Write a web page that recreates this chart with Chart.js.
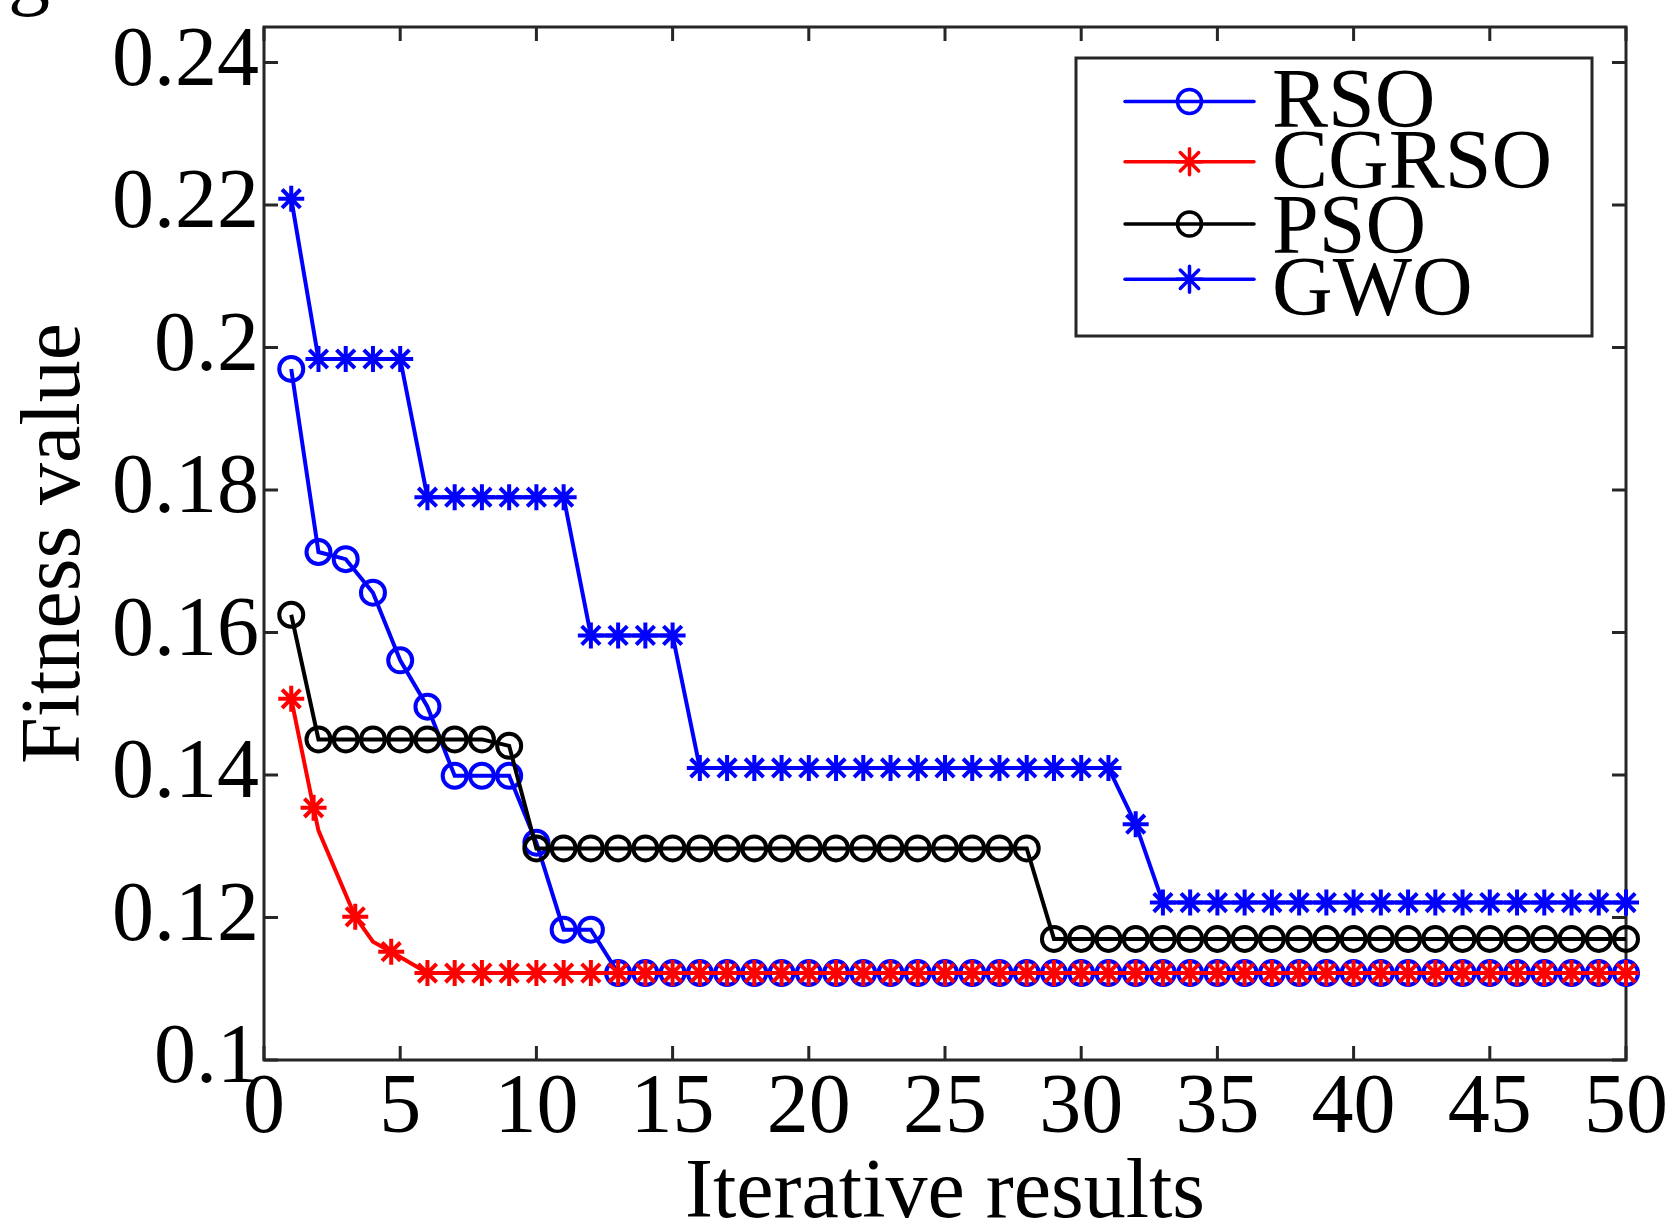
<!DOCTYPE html>
<html>
<head>
<meta charset="utf-8">
<title>Fitness value vs iterative results</title>
<script src="https://cdn.jsdelivr.net/npm/chart.js@4.4.1/dist/chart.umd.min.js"></script>
<style>
  html, body { margin: 0; padding: 0; background: #fff; overflow: hidden; }
  #wrap { position: relative; width: 1679px; height: 1228px; }
  #caption {
    position: absolute; left: 8px; top: -71px;
    font: 84px/84px 'Liberation Serif', 'Times New Roman', serif;
    color: #000; white-space: nowrap;
  }
</style>
</head>
<body>
<div id="wrap">
  <canvas id="chart"></canvas>
  <div id="caption">gure below.</div>
</div>
<script>
// ── data ──
const ITER = [1, 2, 3, 4, 5, 6, 7, 8, 9, 10, 11, 12, 13, 14, 15, 16, 17, 18, 19, 20,
  21, 22, 23, 24, 25, 26, 27, 28, 29, 30, 31, 32, 33, 34, 35, 36, 37, 38, 39, 40,
  41, 42, 43, 44, 45, 46, 47, 48, 49, 50];

const RSO = [0.1970, 0.1713, 0.1703, 0.1656, 0.1561, 0.1496, 0.1399, 0.1399, 0.1399, 0.1305,
  0.1183, 0.1183, 0.1122, 0.1122, 0.1122, 0.1122, 0.1122, 0.1122, 0.1122, 0.1122,
  0.1122, 0.1122, 0.1122, 0.1122, 0.1122, 0.1122, 0.1122, 0.1122, 0.1122, 0.1122,
  0.1122, 0.1122, 0.1122, 0.1122, 0.1122, 0.1122, 0.1122, 0.1122, 0.1122, 0.1122,
  0.1122, 0.1122, 0.1122, 0.1122, 0.1122, 0.1122, 0.1122, 0.1122, 0.1122, 0.1122];

// CGRSO: line vertices, markers only where flagged
const CGRSO_X = [1, 1.82, 2, 3.35, 4, 4.67, 6, 7, 8, 9, 10, 11, 12, 13, 14, 15, 16, 17, 18, 19,
  20, 21, 22, 23, 24, 25, 26, 27, 28, 29, 30, 31, 32, 33, 34, 35, 36, 37, 38, 39,
  40, 41, 42, 43, 44, 45, 46, 47, 48, 49, 50];
const CGRSO_Y = [0.1507, 0.1354, 0.1322, 0.1201, 0.1166, 0.1152, 0.1122, 0.1122, 0.1122, 0.1122,
  0.1122, 0.1122, 0.1122, 0.1122, 0.1122, 0.1122, 0.1122, 0.1122, 0.1122, 0.1122,
  0.1122, 0.1122, 0.1122, 0.1122, 0.1122, 0.1122, 0.1122, 0.1122, 0.1122, 0.1122,
  0.1122, 0.1122, 0.1122, 0.1122, 0.1122, 0.1122, 0.1122, 0.1122, 0.1122, 0.1122,
  0.1122, 0.1122, 0.1122, 0.1122, 0.1122, 0.1122, 0.1122, 0.1122, 0.1122, 0.1122, 0.1122];
const CGRSO_MARK = [1, 1, 0, 1, 0, 1, 1, 1, 1, 1, 1, 1, 1, 1, 1, 1, 1, 1, 1, 1,
  1, 1, 1, 1, 1, 1, 1, 1, 1, 1, 1, 1, 1, 1, 1, 1, 1, 1, 1, 1,
  1, 1, 1, 1, 1, 1, 1, 1, 1, 1, 1];

const PSO = [0.1625, 0.1450, 0.1450, 0.1450, 0.1450, 0.1450, 0.1450, 0.1450, 0.1441, 0.1297,
  0.1297, 0.1297, 0.1297, 0.1297, 0.1297, 0.1297, 0.1297, 0.1297, 0.1297, 0.1297,
  0.1297, 0.1297, 0.1297, 0.1297, 0.1297, 0.1297, 0.1297, 0.1297, 0.1170, 0.1170,
  0.1170, 0.1170, 0.1170, 0.1170, 0.1170, 0.1170, 0.1170, 0.1170, 0.1170, 0.1170,
  0.1170, 0.1170, 0.1170, 0.1170, 0.1170, 0.1170, 0.1170, 0.1170, 0.1170, 0.1170];

const GWO = [0.2209, 0.1984, 0.1984, 0.1984, 0.1984, 0.1790, 0.1790, 0.1790, 0.1790, 0.1790,
  0.1790, 0.1596, 0.1596, 0.1596, 0.1596, 0.1410, 0.1410, 0.1410, 0.1410, 0.1410,
  0.1410, 0.1410, 0.1410, 0.1410, 0.1410, 0.1410, 0.1410, 0.1410, 0.1410, 0.1410,
  0.1410, 0.1331, 0.1221, 0.1221, 0.1221, 0.1221, 0.1221, 0.1221, 0.1221, 0.1221,
  0.1221, 0.1221, 0.1221, 0.1221, 0.1221, 0.1221, 0.1221, 0.1221, 0.1221, 0.1221];

const SERIES_NAMES = ['RSO', 'CGRSO', 'PSO', 'GWO'];

const X_TICKS = [0, 5, 10, 15, 20, 25, 30, 35, 40, 45, 50];
const X_TICK_LABELS = ['0', '5', '10', '15', '20', '25', '30', '35', '40', '45', '50'];
const Y_TICKS = [0.1, 0.12, 0.14, 0.16, 0.18, 0.2, 0.22, 0.24];
const Y_TICK_LABELS = ['0.1', '0.12', '0.14', '0.16', '0.18', '0.2', '0.22', '0.24'];

// ── styles ──
const FONT = "'Liberation Serif', 'Times New Roman', serif";
const FONT_SIZE = 84;
const AXIS_COLOR = '#262626';
const AXIS_W = 3;
const TICK_LEN = 14;
const LINE_W = 4;
const MARK_W = 4;
const CIRCLE_R = 12;
const STAR_R = 13;

// legend box geometry
const LEG = { left: 1076, top: 58, right: 1592, bottom: 336, lineW: 3.5,
  lineX0: 1125, lineX1: 1254, markY: [101.5, 161.7, 224, 279.3], textX: 1272,
  baseY: [126.7, 188.3, 252.7, 315] };

Chart.defaults.font.family = FONT;
Chart.defaults.color = '#000';

function drawMarker(ctx, style, x, y, r) {
  ctx.beginPath();
  if (style === 'circle') {
    ctx.arc(x, y, r, 0, Math.PI * 2);
  } else {
    for (let k = 0; k < 4; k++) {
      const a = k * Math.PI / 4;
      ctx.moveTo(x - r * Math.cos(a), y - r * Math.sin(a));
      ctx.lineTo(x + r * Math.cos(a), y + r * Math.sin(a));
    }
  }
  ctx.stroke();
}

/* box + inward ticks, drawn under the data */
const axesBox = {
  id: 'axesBox',
  beforeDatasetsDraw(chart) {
    const { ctx, chartArea: a, scales: { x, y } } = chart;
    ctx.save();
    ctx.strokeStyle = AXIS_COLOR;
    ctx.lineWidth = AXIS_W;
    ctx.beginPath();
    x.ticks.forEach(t => {
      const px = x.getPixelForValue(t.value);
      ctx.moveTo(px, a.bottom); ctx.lineTo(px, a.bottom - TICK_LEN);
      ctx.moveTo(px, a.top); ctx.lineTo(px, a.top + TICK_LEN);
    });
    y.ticks.forEach(t => {
      const py = y.getPixelForValue(t.value);
      ctx.moveTo(a.left, py); ctx.lineTo(a.left + TICK_LEN, py);
      ctx.moveTo(a.right, py); ctx.lineTo(a.right - TICK_LEN, py);
    });
    ctx.stroke();
    ctx.strokeRect(a.left, a.top, a.right - a.left, a.bottom - a.top);
    ctx.restore();
  }
};

/* MATLAB-like boxed legend, rows tighter than Chart.js allows */
const boxLegend = {
  id: 'boxLegend',
  afterDraw(chart) {
    const ctx = chart.ctx;
    ctx.save();
    ctx.fillStyle = '#fff';
    ctx.fillRect(LEG.left, LEG.top, LEG.right - LEG.left, LEG.bottom - LEG.top);
    ctx.strokeStyle = AXIS_COLOR;
    ctx.lineWidth = AXIS_W;
    ctx.strokeRect(LEG.left, LEG.top, LEG.right - LEG.left, LEG.bottom - LEG.top);
    ctx.font = `${FONT_SIZE}px ${FONT}`;
    ctx.textBaseline = 'alphabetic';
    ctx.textAlign = 'left';
    ctx.lineCap = 'round';
    chart.data.datasets.forEach((ds, i) => {
      const my = LEG.markY[i];
      ctx.strokeStyle = ds.borderColor;
      ctx.lineWidth = LEG.lineW;
      ctx.beginPath();
      ctx.moveTo(LEG.lineX0, my);
      ctx.lineTo(LEG.lineX1, my);
      ctx.stroke();
      drawMarker(ctx, ds.pointStyle, (LEG.lineX0 + LEG.lineX1) / 2, my,
        ds.pointStyle === 'circle' ? CIRCLE_R : STAR_R);
      ctx.fillStyle = '#000';
      ctx.fillText(ds.label, LEG.textX, LEG.baseY[i]);
    });
    ctx.restore();
  }
};

function makeSet(label, xs, ys, color, style, order, marks) {
  const r = style === 'circle' ? CIRCLE_R : STAR_R;
  return {
    label,
    data: xs.map((x, i) => ({ x, y: ys[i] })),
    borderColor: color,
    borderWidth: LINE_W,
    pointStyle: style,
    pointRadius: marks ? marks.map(m => (m ? r : 0)) : r,
    pointBorderColor: color,
    pointBackgroundColor: 'rgba(0,0,0,0)',
    pointBorderWidth: MARK_W,
    tension: 0,
    fill: false,
    clip: false,
    order
  };
}

const datasets = [
  makeSet(SERIES_NAMES[0], ITER, RSO, '#0000ff', 'circle', 3),
  makeSet(SERIES_NAMES[1], CGRSO_X, CGRSO_Y, '#ff0000', 'star', 2, CGRSO_MARK),
  makeSet(SERIES_NAMES[2], ITER, PSO, '#000000', 'circle', 1),
  makeSet(SERIES_NAMES[3], ITER, GWO, '#0000ff', 'star', 0)
];

new Chart(document.getElementById('chart'), {
  type: 'line',
  data: { datasets },
  options: {
    responsive: true,
    maintainAspectRatio: false,
    animation: false,
    events: [],
    layout: { padding: { top: 27, right: 53, bottom: 0, left: 0 } },
    plugins: { legend: { display: false }, tooltip: { enabled: false } },
    scales: {
      x: {
        type: 'linear', min: 0, max: 50,
        grid: { display: false, drawTicks: false },
        border: { display: false },
        afterBuildTicks: s => { s.ticks = X_TICKS.map(v => ({ value: v })); },
        ticks: {
          autoSkip: false, maxRotation: 0, padding: 0,
          font: { size: FONT_SIZE },
          callback: (v, i) => X_TICK_LABELS[i]
        },
        title: {
          display: true, text: 'Iterative results',
          font: { size: FONT_SIZE, lineHeight: 1 },
          padding: { top: 0, bottom: -9 }
        },
        afterFit: s => { s.height = 168; s.paddingLeft = 0; s.paddingRight = 0; }
      },
      y: {
        type: 'linear', min: 0.1, max: 0.245,
        grid: { display: false, drawTicks: false },
        border: { display: false },
        afterBuildTicks: s => { s.ticks = Y_TICKS.map(v => ({ value: v })); },
        ticks: {
          autoSkip: false, padding: 5,
          font: { size: FONT_SIZE },
          callback: (v, i) => Y_TICK_LABELS[i]
        },
        title: {
          display: true, text: 'Fitness value',
          font: { size: FONT_SIZE, lineHeight: 1 },
          padding: { top: 15, bottom: 0 }
        },
        afterFit: s => { s.width = 264; s.paddingTop = 0; s.paddingBottom = 0; }
      }
    }
  },
  plugins: [axesBox, boxLegend]
});
</script>
</body>
</html>
